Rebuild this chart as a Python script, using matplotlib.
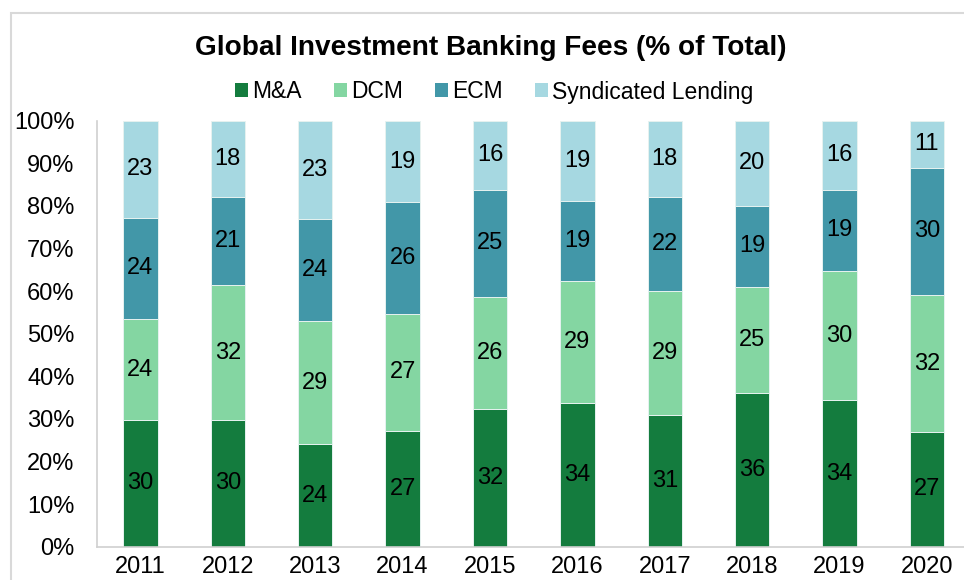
import numpy as np
import matplotlib.pyplot as plt
from matplotlib.patches import Patch, Rectangle

plt.rcParams['font.family'] = ['Liberation Sans', 'DejaVu Sans']

years = ['2011', '2012', '2013', '2014', '2015', '2016', '2017', '2018', '2019', '2020']
mna = [30, 30, 24, 27, 32, 34, 31, 36, 34, 27]
dcm = [24, 32, 29, 27, 26, 29, 29, 25, 30, 32]
ecm = [24, 21, 24, 26, 25, 19, 22, 19, 19, 30]
synd = [23, 18, 23, 19, 16, 19, 18, 20, 16, 11]

series = [('M&A', mna, '#147C3E'),
          ('DCM', dcm, '#84D6A2'),
          ('ECM', ecm, '#4297A8'),
          ('Syndicated Lending', synd, '#A6D8E1')]

# 100% stacked: normalise each year to its total
total = np.array(mna) + np.array(dcm) + np.array(ecm) + np.array(synd)

fig = plt.figure(figsize=(9.64, 5.8), dpi=100)
ax = fig.add_axes([96.7 / 964, 1 - 546.7 / 580, 1 - 96.7 / 964, (546.7 - 120.7) / 580])

x = np.arange(len(years))
bottom = np.zeros(len(years))
for name, vals, col in series:
    share = np.array(vals) / total
    bars = ax.bar(x, share, 0.395, bottom=bottom, color=col, edgecolor='#e6f2f0',
                  linewidth=0.7, label=name)
    ax.bar_label(bars, labels=[str(v) for v in vals], label_type='center',
                 fontsize=17, color='black')
    bottom += share

ax.set_xlim(-0.5, -0.5 + (964 - 96.7) / 87.4)
ax.set_ylim(0, 1)
ax.set_xticks(x)
ax.set_xticklabels(years, fontsize=17)
ax.set_yticks(np.arange(0, 1.01, 0.1))
ax.set_yticklabels([f'{int(round(v * 100))}%' for v in np.arange(0, 1.01, 0.1)], fontsize=17)
ax.tick_params(axis='y', length=0, pad=16)
ax.tick_params(axis='x', length=0, pad=7)
for s in ['top', 'right']:
    ax.spines[s].set_visible(False)
for s in ['left', 'bottom']:
    ax.spines[s].set_color('#d0d0d0')
    ax.spines[s].set_linewidth(1.2)

fig.text(0.509, 1 - 48 / 580, 'Global Investment Banking Fees (% of Total)',
         ha='center', va='center', fontsize=20.2, fontweight='bold')

handles = [Patch(facecolor=c, label=n) for n, v, c in series]
fig.legend(handles=handles, loc='center', bbox_to_anchor=(0.513, 1 - 92 / 580), ncol=4,
           frameon=False, fontsize=16.5, handlelength=0.55, handleheight=0.55,
           handletextpad=0.2, columnspacing=1.4)

fig.add_artist(Rectangle((11 / 964, -0.1), 1.2, 1.1 - 13 / 580, transform=fig.transFigure,
                         fill=False, edgecolor='#d9d9d9', linewidth=1.5))

plt.savefig('out.png', dpi=100)
